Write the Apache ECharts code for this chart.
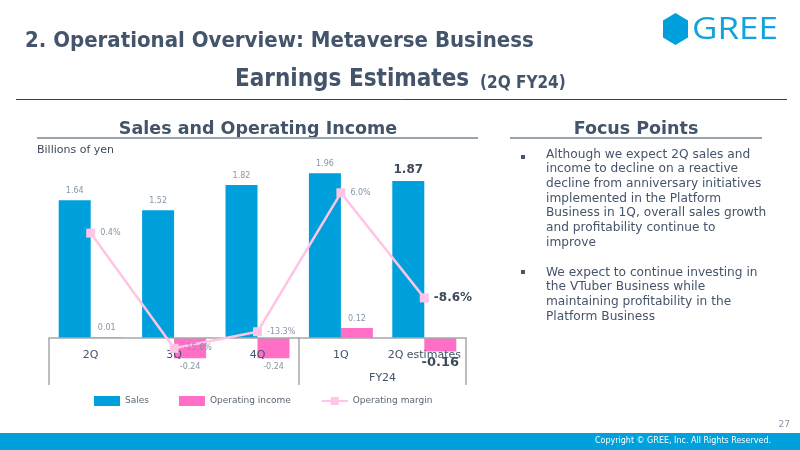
<!DOCTYPE html>
<html>
<head>
<meta charset="utf-8">
<script src="https://cdn.jsdelivr.net/npm/echarts@6/dist/echarts.min.js"></script>
<style>
  html, body { margin: 0; padding: 0; background: #ffffff; }
  #chart { width: 800px; height: 450px; }
</style>
</head>
<body>
<div id="chart"></div>
<script>
// ---- data ----
const categories = ['2Q', '3Q', '4Q', '1Q', '2Q estimates'];
const sales = [1.64, 1.52, 1.82, 1.96, 1.87];
const operatingIncome = [0.01, -0.24, -0.24, 0.12, -0.16];
const operatingMargin = [0.4, -15.6, -13.3, 6.0, -8.6];
const fiscalGroups = [{ label: '', span: 3 }, { label: 'FY24', span: 2 }];
const legendNames = ['Sales', 'Operating income', 'Operating margin'];
const bulletPoints = [
  'Although we expect 2Q sales and\nincome to decline on a reactive\ndecline from anniversary initiatives\nimplemented in the Platform\nBusiness in 1Q, overall sales growth\nand profitability continue to\nimprove',
  'We expect to continue investing in\nthe VTuber Business while\nmaintaining profitability in the\nPlatform Business'
];

// ---- derived: half-step group axis ----
const nSteps = categories.length * 2 + 1;
const groupAxisData = new Array(nSteps).fill('');
const groupBoundaries = new Set([0]);
let pos = 0;
fiscalGroups.forEach(g => {
  groupAxisData[2 * pos + g.span] = g.label;
  pos += g.span;
  groupBoundaries.add(2 * pos);
});

const lastIdx = categories.length - 1;
const FONT = 'DejaVu Sans';
const smallLabel = { fontSize: 8, color: '#8795a5', fontFamily: FONT };
const boldLabel = { fontSize: 12, fontWeight: 'bold', color: '#3c4a5a', fontFamily: FONT };

const salesData = sales.map((v, i) => i === lastIdx
  ? { value: v, label: Object.assign({}, boldLabel) } : v);
const oiData = operatingIncome.map((v, i) => {
  const lbl = i === lastIdx ? Object.assign({}, boldLabel, { fontSize: 13 }) : {};
  lbl.position = v >= 0 ? 'top' : 'bottom';
  return { value: v, label: lbl };
});
const omData = operatingMargin.map((v, i) => i === lastIdx
  ? { value: v, label: Object.assign({}, boldLabel) } : v);

const chart = echarts.init(document.getElementById('chart'), null, { renderer: 'canvas' });

const option = {
  backgroundColor: '#ffffff',
  animation: false,
  textStyle: { fontFamily: FONT },
  grid: [
    { left: 49, right: 334, top: 128, height: 210 },
    { left: 49, right: 334, top: 338, height: 47 }
  ],
  legend: {
    data: [
      { name: legendNames[0], icon: 'rect' },
      { name: legendNames[1], icon: 'rect' },
      { name: legendNames[2] }
    ],
    left: 89, top: 391,
    itemWidth: 26, itemHeight: 10, itemGap: 30,
    textStyle: { fontSize: 9, color: '#5a6673', fontFamily: FONT }
  },
  xAxis: [
    {
      type: 'category', data: categories, gridIndex: 0, position: 'bottom', z: 3,
      axisLine: { onZero: false, lineStyle: { color: '#a8a8a8', width: 1.5 } },
      axisTick: { show: false },
      axisLabel: { interval: 0, color: '#44546a', fontSize: 11, margin: 12, fontFamily: FONT },
      splitLine: { show: false }
    },
    {
      type: 'category', data: groupAxisData, boundaryGap: false, gridIndex: 1,
      position: 'bottom',
      axisLine: { show: false, onZero: false },
      axisTick: {
        show: true, inside: true, length: 47,
        interval: (idx) => groupBoundaries.has(idx),
        lineStyle: { color: '#a8a8a8', width: 1.5 }
      },
      axisLabel: { interval: 0, inside: true, margin: 1, color: '#44546a', fontSize: 11, fontFamily: FONT },
      splitLine: { show: false }
    }
  ],
  yAxis: [
    { type: 'value', gridIndex: 0, min: 0, max: 2.5, show: false },
    { type: 'value', gridIndex: 0, min: -14.17, max: 15, show: false },
    { type: 'value', gridIndex: 1, show: false }
  ],
  series: [
    {
      name: 'Sales', type: 'bar', data: salesData, barWidth: 32, barGap: '0%', clip: false,
      itemStyle: { color: '#00A0DC' },
      label: Object.assign({ show: true, position: 'top', distance: 5, formatter: p => p.value.toFixed(2) }, smallLabel)
    },
    {
      name: 'Operating income', type: 'bar', data: oiData, barWidth: 32, barGap: '0%', clip: false,
      itemStyle: { color: '#FF6EC7' },
      label: Object.assign({ show: true, distance: 5, formatter: p => p.value.toFixed(2) }, smallLabel)
    },
    {
      name: 'Operating margin', type: 'line', yAxisIndex: 1, data: omData, z: 5, clip: false,
      symbol: 'rect', symbolSize: 9,
      lineStyle: { color: '#FFC4E6', width: 2.5 },
      itemStyle: { color: '#FFC4E6' },
      label: Object.assign({ show: true, position: 'right', distance: 5, formatter: p => p.value.toFixed(1) + '%' }, smallLabel)
    }
  ],
  graphic: [
    // page title
    { type: 'text', left: 25, top: 30, style: { text: '2. Operational Overview: Metaverse Business', font: 'bold 22px "DejaVu Sans Condensed"', fill: '#44546a' } },
    { type: 'text', left: 235, top: 68, style: { text: 'Earnings Estimates', font: 'bold 24px "DejaVu Sans Condensed"', fill: '#44546a' } },
    { type: 'text', left: 480, top: 75, style: { text: '(2Q FY24)', font: 'bold 17px "DejaVu Sans Condensed"', fill: '#44546a' } },
    { type: 'line', shape: { x1: 16, y1: 99.5, x2: 787, y2: 99.5 }, style: { stroke: '#3c3c3c', lineWidth: 1 } },
    // logo
    { type: 'polygon', shape: { points: [[675.5, 13], [688, 20.5], [688, 37.5], [675.5, 45], [663, 37.5], [663, 20.5]] }, style: { fill: '#00A0DC' } },
    { type: 'text', x: 692, y: 15, scaleX: 1.13, style: { text: 'GREE', font: '31px "Open Sans"', fill: '#12A3DD' } },
    // section headings
    { type: 'text', x: 258, y: 120, style: { text: 'Sales and Operating Income', font: 'bold 17.5px "DejaVu Sans"', fill: '#44546a', textAlign: 'center' } },
    { type: 'line', shape: { x1: 37, y1: 138, x2: 478, y2: 138 }, style: { stroke: '#98a4ae', lineWidth: 2 } },
    { type: 'text', left: 37, top: 145, style: { text: 'Billions of yen', font: '11px "DejaVu Sans"', fill: '#3c4a5a' } },
    { type: 'text', x: 636, y: 120, style: { text: 'Focus Points', font: 'bold 17.5px "DejaVu Sans"', fill: '#44546a', textAlign: 'center' } },
    { type: 'line', shape: { x1: 510, y1: 138, x2: 762, y2: 138 }, style: { stroke: '#98a4ae', lineWidth: 2 } },
    // bullets
    { type: 'rect', shape: { x: 521, y: 155, width: 4, height: 4 }, style: { fill: '#44546a' } },
    { type: 'text', left: 546, top: 147, style: { text: bulletPoints[0], font: '12.2px "DejaVu Sans"', fill: '#44546a', lineHeight: 14.7 } },
    { type: 'rect', shape: { x: 521, y: 270, width: 4, height: 4 }, style: { fill: '#44546a' } },
    { type: 'text', left: 546, top: 265, style: { text: bulletPoints[1], font: '12.2px "DejaVu Sans"', fill: '#44546a', lineHeight: 14.7 } },
    // footer
    { type: 'text', right: 10, top: 420, style: { text: '27', font: '9px "DejaVu Sans"', fill: '#8a96a3' } },
    { type: 'rect', shape: { x: 0, y: 433, width: 800, height: 17 }, style: { fill: '#00A0DC' } },
    { type: 'text', right: 29, top: 437, style: { text: 'Copyright \u00A9 GREE, Inc. All Rights Reserved.', font: '8px "DejaVu Sans"', fill: '#ffffff' } }
  ]
};
chart.setOption(option);
</script>
</body>
</html>
